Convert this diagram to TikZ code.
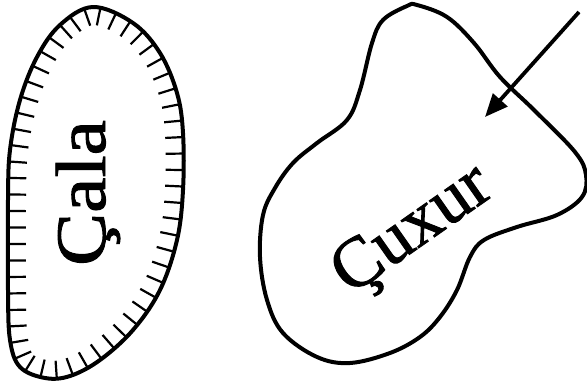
\documentclass[tikz,border=0pt]{standalone}
\usepackage{fontspec}
\setmainfont{Liberation Serif}
\newfontfamily\heavyserif[FakeBold=1.3]{Liberation Serif}
\usetikzlibrary{decorations.markings,arrows.meta}
\tikzset{
  outline/.style={line width=4pt, line join=round},
  hatched/.style={outline, postaction={decorate, decoration={markings,
      mark=between positions 0 and 0.999 step 16.5pt with {\draw[line width=2.2pt] (0,0) -- (0,18pt);}}}},
  label/.style={font=\heavyserif\fontsize{71}{78}\selectfont, inner sep=0pt, anchor=base},
  pointer/.style={line width=3.8pt, -{Triangle[length=23pt,width=19pt]}}
}
\begin{document}
\begin{tikzpicture}[x=1pt,y=1pt]
\useasboundingbox (0,0) rectangle (587,-382);
% left hatched shape
\draw[hatched] plot[smooth cycle, tension=0.6] coordinates {
 (93,-7) (60,-25) (37,-57) (20,-100) (10,-150) (8,-200) (8,-290) (10,-340)
 (20,-367) (45,-378) (70,-376) (100,-360) (133,-330) (160,-290) (177,-240)
 (183,-190) (183,-133) (177,-93) (160,-53) (133,-23)};
\node[label, rotate=90] (cala) at (105,-193) {\scalebox{1.12}[1]{Çala}};
% right blob
\draw[outline] plot[smooth cycle, tension=0.6] coordinates {
 (407,-6) (383,-20) (372,-43) (360,-90) (347,-120) (317,-143) (293,-163)
 (275,-188) (263,-215) (260,-257) (267,-300) (283,-333) (317,-357) (350,-363)
 (390,-353) (420,-337) (440,-317) (457,-290) (470,-257) (484,-240) (517,-227)
 (557,-215) (582,-197) (586,-175) (575,-152) (534,-110) (500,-77) (474,-43)
 (447,-17) (417,-5)};
\node[label, rotate=35] (cuxur) at (423,-245) {Çuxur};
\coordinate (start) at (579,-12);
\coordinate (tip) at (485,-117);
\draw[pointer] (start) -- (tip);
\end{tikzpicture}
\end{document}
